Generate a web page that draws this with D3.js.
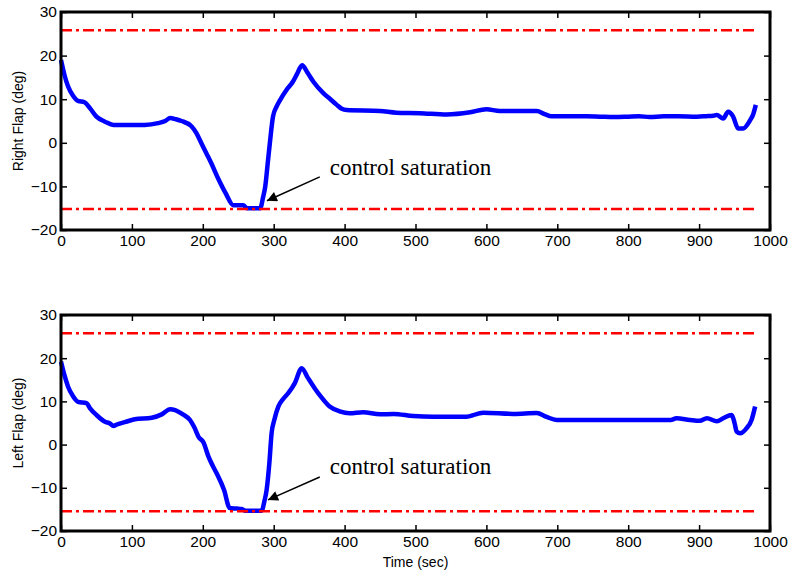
<!DOCTYPE html>
<html>
<head>
<meta charset="utf-8">
<script src="https://cdn.jsdelivr.net/npm/d3@7"></script>
<style>
  html, body { margin: 0; padding: 0; background: #fff; }
  svg { display: block; }
</style>
</head>
<body>
<svg id="chart" width="793" height="575"></svg>
<script>
// ---------------- data ----------------
const xTicks = [0, 100, 200, 300, 400, 500, 600, 700, 800, 900, 1000];
const yTicks = [-20, -10, 0, 10, 20, 30];
const satUpper = 25.8;
const satLower = -15.2;
const satLowerL = -15.4;
const satEnd = 980;

const rightTime = [0,5,10,17,24,33,41,50,62,74,100,118,137,147,154,162,170,184,191,198,205,212,222,232,243,257,262,281,285,288,292,295,299,304,309,318,327,333,340,348,356,370,380,389,396,403,450,473,506,544,577,600,619,671,682,692,741,760,780,800,815,830,850,870,897,910,920,925,934,941,948,955,962,972,976,980];
const rightFlap = [19,15.5,12.9,10.8,9.6,9.3,7.9,6.0,4.85,4.1,4.1,4.1,4.5,5.0,5.7,5.4,5.0,3.8,2.2,-0.1,-2.4,-4.7,-8.3,-11.5,-14.3,-14.3,-15.0,-15.0,-12.5,-10.1,-4,0.6,6.0,8.3,9.8,12.1,14.0,15.8,17.8,16,14.0,11.4,10.0,8.7,7.8,7.5,7.3,6.9,6.8,6.5,7.0,7.7,7.3,7.3,6.6,6.1,6.1,6.0,5.9,6.0,6.1,5.9,6.1,6.1,6.0,6.1,6.2,6.4,5.6,7.1,6.0,3.3,3.3,5.2,6.4,8.7];

const leftTime = [0,5,10,17,24,36,41,50,62,69,74,78,90,104,128,142,154,161,172,182,188,194,201,208,214,220,230,238,248,255,260,283,287,290,294,297,301,306.5,313,320.5,330,339.5,348,358,368,379,393,407,426,450,469,497,525,572,585,596,638,671,685,699,760,860,868,887,901,911,925,934,946,950,953,958,967,974,979];
const leftFlap = [19.2,16,13.4,11.2,9.9,9.6,8.4,6.85,5.3,4.9,4.3,4.6,5.2,5.85,6.2,7.0,8.2,8.0,7.0,5.7,4.0,1.8,0.5,-2.8,-4.9,-6.8,-10.5,-14.7,-14.8,-14.9,-15.3,-15.3,-13,-10.5,-4,2.6,5.8,8.8,10.5,11.9,14.3,17.7,15.5,13.0,10.8,8.8,7.7,7.25,7.5,7.0,7.1,6.6,6.45,6.45,7.0,7.4,7.1,7.3,6.4,5.7,5.7,5.7,6.1,5.7,5.5,6.1,5.4,6.1,6.85,5,3.0,2.6,3.8,5.7,8.8];

const panels = [
  { label: "Right Flap (deg)", time: rightTime, values: rightFlap, top: 12, bottom: 230,
    upper: satUpper, lower: satLower, annText: "control saturation",
    annTextPos: [379, -7.4], annFrom: [365, -7.8], annTo: [290.5, -13.3], xTitle: null },
  { label: "Left Flap (deg)", time: leftTime, values: leftFlap, top: 315, bottom: 531,
    upper: satUpper, lower: satLowerL, annText: "control saturation",
    annTextPos: [379, -6.9], annFrom: [365, -7.5], annTo: [292, -12.8], xTitle: "Time (sec)" }
];

// ---------------- drawing ----------------
const svg = d3.select("#chart");
const sans = "Arial, 'Liberation Sans', Helvetica, sans-serif";
const serif = "'Times New Roman', 'Liberation Serif', Times, serif";
const L = 61, R = 770;

svg.append("defs").append("marker")
  .attr("id", "arrowhead")
  .attr("viewBox", "0 0 10 10")
  .attr("refX", 10).attr("refY", 5)
  .attr("markerWidth", 13).attr("markerHeight", 10)
  .attr("markerUnits", "userSpaceOnUse")
  .attr("orient", "auto")
  .append("path").attr("d", "M0,0 L10,5 L0,10 Z").attr("fill", "#000");

panels.forEach(p => {
  const x = d3.scaleLinear().domain([0, 1000]).range([L, R]);
  const y = d3.scaleLinear().domain([-20, 30]).range([p.bottom, p.top]);
  const g = svg.append("g");

  // frame ticks (inward)
  const tickLen = 6;
  const axB = g.append("g").attr("transform", `translate(0,${p.bottom})`)
    .call(d3.axisBottom(x).tickValues(xTicks).tickSizeInner(-tickLen).tickSizeOuter(0).tickPadding(5).tickFormat(d3.format("d")));
  const axT = g.append("g").attr("transform", `translate(0,${p.top})`)
    .call(d3.axisTop(x).tickValues(xTicks).tickSizeInner(-tickLen).tickSizeOuter(0).tickFormat(""));
  const axLft = g.append("g").attr("transform", `translate(${L},0)`)
    .call(d3.axisLeft(y).tickValues(yTicks).tickSizeInner(-tickLen).tickSizeOuter(0).tickPadding(4).tickFormat(d3.format("d")));
  const axRgt = g.append("g").attr("transform", `translate(${R},0)`)
    .call(d3.axisRight(y).tickValues(yTicks).tickSizeInner(-tickLen).tickSizeOuter(0).tickFormat(""));
  [axB, axT, axLft, axRgt].forEach(a => {
    a.select(".domain").remove();
    a.selectAll("line").attr("stroke", "#000").attr("stroke-width", 1.5);
    a.selectAll("text").attr("fill", "#000").style("font-family", sans).style("font-size", "15.5px");
  });

  // series line
  const pts = p.time.map((t, i) => [t, p.values[i]]);
  const line = d3.line().x(d => x(d[0])).y(d => y(d[1])).curve(d3.curveMonotoneX);
  g.append("path")
    .datum(pts)
    .attr("d", line)
    .attr("fill", "none")
    .attr("stroke", "#0000ff")
    .attr("stroke-width", 4.5)
    .attr("stroke-linejoin", "round");

  // saturation limits (drawn above the blue line)
  [p.upper, p.lower].forEach(v => {
    g.append("line")
      .attr("x1", x(0)).attr("x2", x(satEnd))
      .attr("y1", y(v)).attr("y2", y(v))
      .attr("stroke", "#ff0000").attr("stroke-width", 2.5)
      .attr("stroke-dasharray", "11,4,3,4");
  });

  // frame
  g.append("rect")
    .attr("x", L).attr("y", p.top)
    .attr("width", R - L).attr("height", p.bottom - p.top)
    .attr("fill", "none").attr("stroke", "#000").attr("stroke-width", 3);

  // y label
  g.append("text")
    .attr("transform", `translate(23,${(p.top + p.bottom) / 2}) rotate(-90)`)
    .attr("text-anchor", "middle")
    .style("font-family", sans).style("font-size", "14px")
    .text(p.label);

  // annotation
  g.append("line")
    .attr("x1", x(p.annFrom[0])).attr("y1", y(p.annFrom[1]))
    .attr("x2", x(p.annTo[0])).attr("y2", y(p.annTo[1]))
    .attr("stroke", "#000").attr("stroke-width", 1.5)
    .attr("marker-end", "url(#arrowhead)");
  g.append("text")
    .attr("x", x(p.annTextPos[0])).attr("y", y(p.annTextPos[1]))
    .style("font-family", serif).style("font-size", "23px")
    .text(p.annText);

  if (p.xTitle) {
    g.append("text")
      .attr("x", (L + R) / 2).attr("y", 567)
      .attr("text-anchor", "middle")
      .style("font-family", sans).style("font-size", "14px")
      .text(p.xTitle);
  }
});
</script>
</body>
</html>
